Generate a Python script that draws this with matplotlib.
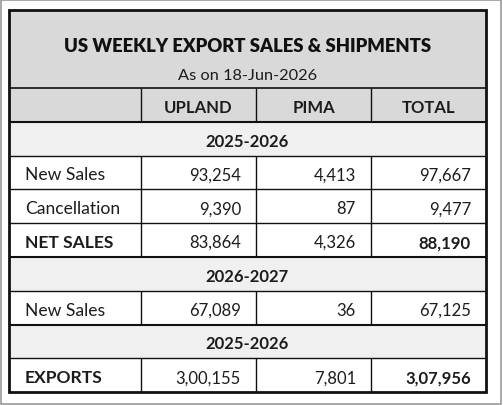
import matplotlib.pyplot as plt
from matplotlib.patches import Rectangle

# Dades de la taula
title = "US WEEKLY EXPORT SALES & SHIPMENTS"
subtitle = "As on 18-Jun-2026"
columns = ["UPLAND", "PIMA", "TOTAL"]

# (tipus, etiqueta, valors, negreta etiqueta, negreta total)
rows = [
    ("section", "2025-2026", None, True, False),
    ("data", "New Sales", ["93,254", "4,413", "97,667"], False, False),
    ("data", "Cancellation", ["9,390", "87", "9,477"], False, False),
    ("data", "NET SALES", ["83,864", "4,326", "88,190"], True, True),
    ("section", "2026-2027", None, True, False),
    ("data", "New Sales", ["67,089", "36", "67,125"], False, False),
    ("section", "2025-2026", None, True, False),
    ("data", "EXPORTS", ["3,00,155", "7,801", "3,07,956"], True, True),
]

# Geometria (pixels)
W, H = 503, 406
col_x = [9, 141, 256, 371, 486]
top, title_bottom = 11, 89
row_h = 33.8

plt.rcParams['font.family'] = ['Lato', 'DejaVu Sans']
txt = '#1c1c1c'

fig = plt.figure(figsize=(W / 100, H / 100), dpi=100)
ax = fig.add_axes([0, 0, 1, 1])
ax.set_xlim(0, W)
ax.set_ylim(H, 0)
ax.axis('off')

# Marc de la imatge
ax.add_patch(Rectangle((0.5, 0.5), W - 2, H - 2, fill=False, ec='#9a9a9a', lw=1.2))

# Capçalera del títol
ax.add_patch(Rectangle((col_x[0], top), col_x[-1] - col_x[0], title_bottom - top,
                       fc='#d9d9d9', ec='none'))
ax.text(W / 2 - 4, 46.5, title, ha='center', va='center', fontsize=13.3,
        fontweight='heavy', color='#111111')
ax.text(W / 2 - 4, 75.5, subtitle, ha='center', va='center', fontsize=11.8, color=txt)

# Fila de columnes
y = title_bottom
ax.add_patch(Rectangle((col_x[0], y), col_x[-1] - col_x[0], row_h, fc='#d9d9d9', ec='none'))
for i, c in enumerate(columns):
    ax.text((col_x[i + 1] + col_x[i + 2]) / 2, y + row_h / 2 + 2, c, ha='center',
            va='center', fontsize=12, fontweight='bold', color=txt)
ax.hlines(y, col_x[0], col_x[-1], color='#111111', lw=1.2)
ax.vlines(col_x[1:-1], y, y + row_h, color='#111111', lw=1.0)
y += row_h

for kind, label, vals, bold_lab, bold_tot in rows:
    ax.hlines(y, col_x[0], col_x[-1], color='#111111', lw=1.5 if kind == 'section' or y < 130 else 1.0)
    if kind == 'section':
        ax.add_patch(Rectangle((col_x[0], y), col_x[-1] - col_x[0], row_h,
                               fc='#f0f0f0', ec='none', zorder=0))
        ax.text((col_x[0] + col_x[-1]) / 2, y + row_h / 2 + 2, label, ha='center',
                va='center', fontsize=12, fontweight='bold', color=txt)
    else:
        ax.vlines(col_x[1:-1], y, y + row_h, color='#111111', lw=1.0)
        ax.text(col_x[0] + 16, y + row_h / 2 + 2, label, ha='left', va='center',
                fontsize=12.6, fontweight='bold' if bold_lab else 'normal', color=txt)
        for j, v in enumerate(vals):
            bold = bold_tot and j == 2
            ax.text(col_x[j + 2] - 15, y + row_h / 2 + 2, v, ha='right', va='center',
                    fontsize=12, fontweight='bold' if bold else 'normal', color=txt)
    y += row_h

# Marc exterior
ax.add_patch(Rectangle((col_x[0], top), col_x[-1] - col_x[0], y - top, fill=False,
                       ec='#111111', lw=2.0))

fig.savefig('out.png', dpi=100)
